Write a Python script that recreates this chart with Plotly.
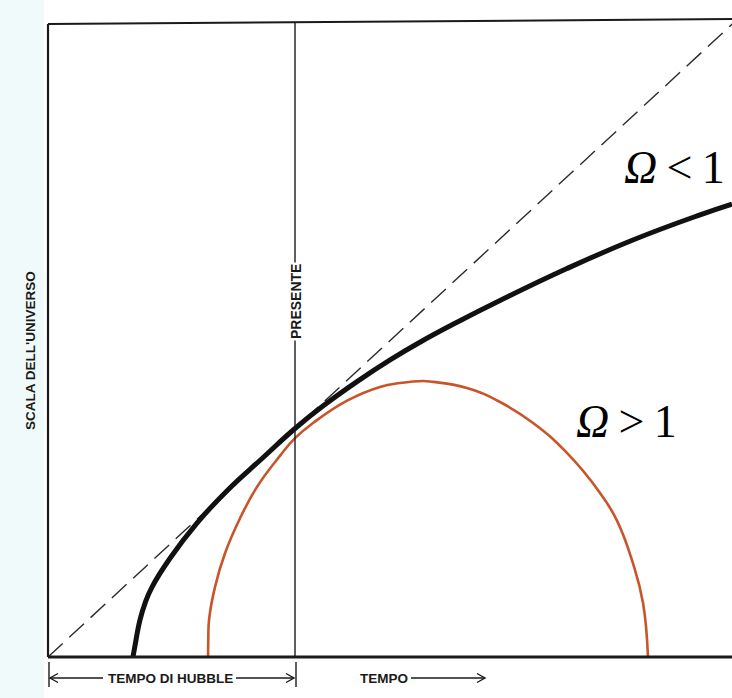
import plotly.graph_objects as go

# Expansion histories: cosmic time in Hubble times, scale factor normalised to today
OPEN_T = [0.344, 0.352, 0.372, 0.393, 0.421, 0.494, 0.603, 0.725, 0.870, 1.000,
          1.113, 1.251, 1.385, 1.518, 1.656, 1.830, 2.101, 2.368, 2.640, 2.769]
OPEN_A = [0.000, 0.048, 0.160, 0.236, 0.306, 0.432, 0.586, 0.728, 0.872, 1.000,
          1.098, 1.205, 1.300, 1.385, 1.465, 1.560, 1.700, 1.825, 1.935, 1.982]

CLOSED_T = [0.648, 0.649, 0.652, 0.676, 0.717, 0.777, 0.846, 0.939, 1.000, 1.073,
            1.211, 1.344, 1.425, 1.518, 1.559, 1.696, 1.830, 1.964, 2.101, 2.235,
            2.304, 2.368, 2.409, 2.429]
CLOSED_A = [0.000, 0.074, 0.162, 0.306, 0.455, 0.606, 0.744, 0.880, 0.958, 1.024,
            1.122, 1.182, 1.199, 1.208, 1.204, 1.177, 1.116, 1.024, 0.893, 0.718,
            0.596, 0.411, 0.236, 0.000]

# Constant expansion rate (a = H0 t)
LINEAR_T = [0.0, 2.80]
LINEAR_A = [0.0, 2.80]

PRESENT_T = 1.0
FRAME_TOP = 2.770

LABEL_OPEN = "<i>Ω</i>\u2009<\u20091"
LABEL_CLOSED = "<i>Ω</i>\u2009>\u20091"
LABEL_Y = "SCALA DELL'UNIVERSO"
LABEL_PRESENT = "PRESENTE"
LABEL_HUBBLE = "TEMPO DI HUBBLE"
LABEL_TIME = "TEMPO"

# canvas geometry: pixels per unit on each axis and the origin position
W, H = 732, 698
OX, OY = 48, 657
SX, SY = 247.0, 228.5


def tx(px):
    return (px - OX) / SX


def ay(py):
    return (OY - py) / SY


INK = "#1a1a1a"
SANS = "Liberation Sans, Arial, sans-serif"
SERIF = "Liberation Serif, Times New Roman, serif"

fig = go.Figure()

fig.add_trace(go.Scatter(
    x=LINEAR_T, y=LINEAR_A, mode="lines",
    line=dict(color="#2a2a2a", width=1.4, dash="20px,9px"),
    hoverinfo="skip", showlegend=False))

fig.add_trace(go.Scatter(
    x=CLOSED_T, y=CLOSED_A, mode="lines",
    line=dict(color="#c8552a", width=2.6, shape="spline", smoothing=1.3),
    hoverinfo="skip", showlegend=False))

fig.add_trace(go.Scatter(
    x=OPEN_T, y=OPEN_A, mode="lines",
    line=dict(color="#111111", width=5, shape="spline", smoothing=1.3),
    hoverinfo="skip", showlegend=False))

shapes = []
# faint tint along the left edge of the sheet
shapes.append(dict(type="rect", xref="paper", yref="paper", x0=0, x1=44 / W, y0=0, y1=1,
                   fillcolor="rgba(210,238,240,0.3)", line=dict(width=0), layer="below"))
# frame
shapes.append(dict(type="line", x0=0, x1=0, y0=0, y1=FRAME_TOP, line=dict(color=INK, width=2.2)))
shapes.append(dict(type="line", x0=0, x1=tx(W + 10), y0=0, y1=0, line=dict(color=INK, width=3)))
shapes.append(dict(type="line", x0=0, x1=tx(W + 10), y0=FRAME_TOP, y1=ay(19),
                   line=dict(color=INK, width=2)))
# present epoch
shapes.append(dict(type="line", x0=PRESENT_T, x1=PRESENT_T, y0=0, y1=ay(22),
                   line=dict(color=INK, width=1.4)))

# bottom time arrows
arrow_y = ay(678)
lw = dict(color=INK, width=1.4)


def hline(p0, p1):
    shapes.append(dict(type="line", x0=tx(p0), x1=tx(p1), y0=arrow_y, y1=arrow_y, line=lw))


def head(px, direction):
    L, Hh = 8 / SX, 4.5 / SY
    hx = tx(px)
    bx = hx - direction * L
    shapes.append(dict(type="path",
                       path=f"M {bx},{arrow_y + Hh} L {hx},{arrow_y} L {bx},{arrow_y - Hh}",
                       line=lw))


def tick(px):
    shapes.append(dict(type="line", x0=tx(px), x1=tx(px), y0=ay(662), y1=ay(687), line=lw))


tick(49)
tick(296)
hline(50, 103)
head(50, -1)
hline(236, 294)
head(294, 1)
hline(411, 485)
head(485, 1)

annotations = [
    dict(x=tx(30), y=ay(351), text=f"<b>{LABEL_Y}</b>", textangle=-90,
         font=dict(family=SANS, size=13.5, color=INK)),
    dict(x=tx(296), y=ay(302), text=f"<b>{LABEL_PRESENT}</b>", textangle=-90, bgcolor="white",
         borderpad=1, font=dict(family=SANS, size=14, color=INK)),
    dict(x=tx(170), y=arrow_y, text=f"<b>{LABEL_HUBBLE}</b>",
         font=dict(family=SANS, size=13.5, color=INK)),
    dict(x=tx(384), y=arrow_y, text=f"<b>{LABEL_TIME}</b>",
         font=dict(family=SANS, size=13.5, color=INK)),
    dict(x=tx(674), y=ay(167), text=LABEL_OPEN, font=dict(family=SERIF, size=46, color="#000")),
    dict(x=tx(626), y=ay(421), text=LABEL_CLOSED, font=dict(family=SERIF, size=46, color="#000")),
]
for a in annotations:
    a.update(xref="x", yref="y", showarrow=False, xanchor="center", yanchor="middle")

fig.update_layout(
    width=W, height=H,
    margin=dict(l=0, r=0, t=0, b=0),
    paper_bgcolor="white", plot_bgcolor="white",
    xaxis=dict(range=[tx(0), tx(W)], visible=False, fixedrange=True),
    yaxis=dict(range=[ay(H), ay(0)], visible=False, fixedrange=True),
    shapes=shapes, annotations=annotations,
)

fig.write_html("out.html")
